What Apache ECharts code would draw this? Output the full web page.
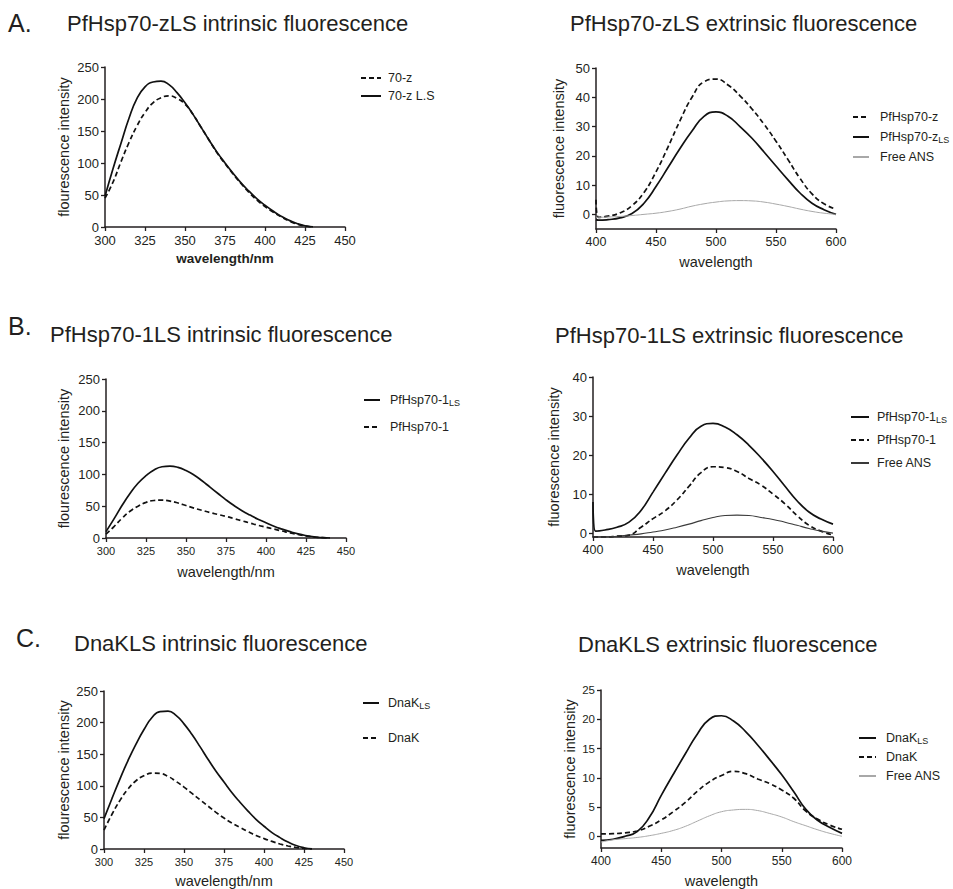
<!DOCTYPE html>
<html>
<head>
<meta charset="utf-8">
<script src="https://cdn.jsdelivr.net/npm/echarts@6/dist/echarts.min.js"></script>
<style>html,body{margin:0;padding:0;background:#fff;}#c{width:953px;height:889px;}</style>
</head>
<body>
<div id="c"></div>
<script>
// ---------- DATA ----------
// Intrinsic fluorescence (wavelength/nm)
const wlA1 = [300,305,310,315,320,325,330,335,340,345,350,355,360,365,370,375,380,385,390,395,400,405,410,415,420,425,430];
const a1_z  = [45,70,102,132,158,179,194,202,205,201,192,176,156,136,116,99,83,68,54,42,32,23.5,16,9.5,4.5,1.5,0];
const a1_ls = [48,91,131,170,201,219,226.5,228,222.5,210,194,176,156,136,117,100,84,69,56,44,34,25,17,10.5,5.5,2,0.3];

const wlB1 = [300,305,310,315,320,325,330,335,340,345,350,355,360,365,370,375,380,385,390,395,400,405,410,415,420,425,430,435,440];
const b1_ls = [10,30,51,70,86,98,107,112,113,111,106,99,90,80,70,60,51,43,36,29.5,24,18.5,14,10,6.5,3.8,1.8,0.6,0];
const b1_1  = [6,18,31,42,50,56,59,59.5,58,55,51,47,43.5,40,37,34,30.5,27,23.5,20,17,14,11,8,5.5,3.3,1.6,0.5,0];

const wlC1 = [300,305,310,315,320,325,330,335,340,345,350,355,360,365,370,375,380,385,390,395,400,405,410,415,420,425,430];
const c1_ls = [48,80,111,140,166,189,208,217.5,218,211.5,198,181,162,142,123,106,89,74,60,47,36,26,18,11,5.5,2,0.3];
const c1_k  = [30,55,77,95,108,116,120,119.5,115,107,98,88,78,68,58,49,41,34,27.5,21.5,16.5,12,8,4.8,2.4,0.8,0];

// Extrinsic fluorescence (wavelength)
const wlA2 = [400,402,410,420,430,440,450,460,470,480,490,500,510,520,530,540,550,560,570,580,590,600];
const a2_z   = [5,-1,-0.6,0.5,3,7.5,14.5,23,32,40,45.3,46.2,44.2,40.5,36,30.8,25,18.7,12.3,7,3.6,1.8];
const a2_ls  = [-1.8,-2,-1.8,-1.2,0.3,3.8,9.5,16,22.5,28.5,33.5,35,33.5,30,26,21.3,16.5,11.8,7.3,3.8,1.6,0];
const a2_ans = [-1,-1,-0.9,-0.7,-0.4,0,0.4,1,1.8,2.8,3.6,4.2,4.6,4.7,4.6,4.2,3.5,2.7,1.8,1,0.4,0];

const wlB2 = [400,402,410,420,430,440,450,460,470,480,490,500,510,520,530,540,550,560,570,580,590,600];
const b2_ls  = [8,0.5,0.8,1.5,2.8,5.8,10.5,15.3,20,24.3,27.4,28.1,27.2,25.2,22.5,19.3,15.8,12,8.3,5.4,3.6,2.3];
const b2_1   = [-1,-1,-1,-0.8,-0.5,1.5,3.7,5.7,8.5,12,15.5,17,16.8,15.8,14,12.3,10,7.5,4.5,2,0.5,-0.5];
const b2_ans = [-1,-1,-1,-0.8,-0.5,-0.2,0.3,0.8,1.5,2.3,3.2,4,4.5,4.6,4.5,4,3.5,2.8,2,1.2,0.5,0];

const wlC2 = [400,410,420,430,440,450,460,470,480,490,500,510,520,530,540,550,560,570,580,590,600];
const c2_ls  = [-0.7,-0.5,0,0.8,3.2,7,10.6,14.1,17.5,20,20.6,19.7,17.9,15.6,13.1,10.5,7.6,4.6,2.7,1.5,0.5];
const c2_k   = [0.4,0.45,0.6,0.9,1.7,2.8,4.2,5.8,7.7,9.3,10.4,11.1,10.7,9.8,9,7.9,6.5,4.3,2.9,1.9,1.2];
const c2_ans = [-1,-0.6,-0.4,-0.2,0.1,0.5,1,1.7,2.6,3.5,4.2,4.5,4.6,4.4,3.9,3.3,2.5,1.8,1.1,0.5,0];

// Tick labels
const yTicksA2 = [0,10,20,30,40,50];
const yTicksB2 = [0,10,20,30,40];
const yTicksC2 = [0,5,10,15,20,25];

// Legend display names
const legendNames = {
  a1_z: '{n|70-z}', a1_ls: '{n|70-z L.S}',
  a2_z: '{n|PfHsp70-z}', a2_ls: '{n|PfHsp70-z}{s|LS}', a2_ans: '{n|Free ANS}',
  b1_ls: '{n|PfHsp70-1}{s|LS}', b1_1: '{n|PfHsp70-1}',
  b2_ls: '{n|PfHsp70-1}{s|LS}', b2_1: '{n|PfHsp70-1}', b2_ans: '{n|Free ANS}',
  c1_ls: '{n|DnaK}{s|LS}', c1_k: '{n|DnaK}',
  c2_ls: '{n|DnaK}{s|LS}', c2_k: '{n|DnaK}', c2_ans: '{n|Free ANS}'
};

// ---------- CHART ----------
const FONT = 'Liberation Sans';
const INK = '#231f20';
const pts = (xs, ys) => xs.map((x, i) => [x, ys[i]]);

const grids = [
  {left:105, top:67,  width:240, height:160},
  {left:596, top:68,  width:240, height:161},
  {left:106, top:379, width:240, height:159},
  {left:593, top:377, width:240, height:160},
  {left:104, top:691, width:240, height:160},
  {left:601, top:690, width:241, height:159}
];

function xAxis(i, min, max, interval, fs, name, bold, gap) {
  return {
    type:'value', gridIndex:i, min:min, max:max, interval:interval,
    name:name, nameLocation:'middle', nameGap:gap,
    nameTextStyle:{fontFamily:FONT, fontSize:bold?13.5:14.5, fontWeight:bold?'bold':'normal', color:INK},
    axisLine:{onZero:false, lineStyle:{color:INK, width:1.5}},
    axisTick:{show:true, length:4, lineStyle:{color:INK, width:1.3}},
    axisLabel:{fontFamily:FONT, fontSize:fs, color:INK, margin:7, lineHeight:fs},
    splitLine:{show:false}
  };
}
function yAxis(i, min, max, interval, fs, name, gap, custom) {
  const ax = {
    type:'value', gridIndex:i, min:min, max:max,
    name:name, nameLocation:'middle', nameGap:gap,
    nameTextStyle:{fontFamily:FONT, fontSize:14.5, color:INK},
    axisLine:{show:true, onZero:false, lineStyle:{color:INK, width:1.5}},
    axisTick:{show:true, length:4, lineStyle:{color:INK, width:1.3}},
    axisLabel:{fontFamily:FONT, fontSize:fs, color:INK, margin:6, lineHeight:fs},
    splitLine:{show:false}
  };
  if (custom) {
    ax.interval = 5;
    ax.axisTick.customValues = custom;
    ax.axisLabel.customValues = custom;
  } else {
    ax.interval = interval;
  }
  return ax;
}

const xAxes = [
  xAxis(0, 300, 450, 25, 13, 'wavelength/nm', true, 24),
  xAxis(1, 400, 600, 50, 12.5, 'wavelength', false, 25),
  xAxis(2, 300, 450, 25, 11, 'wavelength/nm', false, 26),
  xAxis(3, 400, 600, 50, 12.5, 'wavelength', false, 25),
  xAxis(4, 300, 450, 25, 11, 'wavelength/nm', false, 24),
  xAxis(5, 400, 600, 50, 12, 'wavelength', false, 25)
];
const yAxes = [
  yAxis(0, 0, 250, 50, 13, 'flourescence intensity', 34),
  yAxis(1, -5, 50, 10, 13, 'fluorescence intensity', 30, yTicksA2),
  yAxis(2, 0, 250, 50, 13, 'flourescence intensity', 35),
  yAxis(3, -1, 40, 10, 13, 'fluorescence intensity', 32, yTicksB2),
  yAxis(4, 0, 250, 50, 13, 'flourescence intensity', 33),
  yAxis(5, -2, 25, 5, 11.5, 'fluorescence intensity', 24, yTicksC2)
];

function line(id, g, xs, ys, style) {
  return {
    type:'line', name:id, xAxisIndex:g, yAxisIndex:g,
    data:pts(xs, ys), symbol:'none', showSymbol:false,
    smooth:0.5,
    lineStyle:Object.assign({color:'#111', width:1.7, type:'solid'}, style),
    itemStyle:{color:style && style.color ? style.color : '#111'},
    emphasis:{disabled:true}
  };
}
const DASH = [5,3];
const series = [
  line('a1_z', 0, wlA1, a1_z, {type:DASH}),
  line('a1_ls', 0, wlA1, a1_ls, {}),
  line('a2_z', 1, wlA2, a2_z, {type:DASH}),
  line('a2_ls', 1, wlA2, a2_ls, {}),
  line('a2_ans', 1, wlA2, a2_ans, {color:'#a8a8a8', width:1}),
  line('b1_ls', 2, wlB1, b1_ls, {}),
  line('b1_1', 2, wlB1, b1_1, {type:DASH}),
  line('b2_ls', 3, wlB2, b2_ls, {}),
  line('b2_1', 3, wlB2, b2_1, {type:DASH}),
  line('b2_ans', 3, wlB2, b2_ans, {color:'#3a3a3a', width:1.1}),
  line('c1_ls', 4, wlC1, c1_ls, {}),
  line('c1_k', 4, wlC1, c1_k, {type:DASH}),
  line('c2_ls', 5, wlC2, c2_ls, {}),
  line('c2_k', 5, wlC2, c2_k, {type:DASH}),
  line('c2_ans', 5, wlC2, c2_ans, {color:'#a8a8a8', width:1})
];

const rich = {
  n:{fontFamily:FONT, fontSize:12.5, color:INK, lineHeight:14},
  s:{fontFamily:FONT, fontSize:9, color:INK, lineHeight:14, verticalAlign:'bottom', padding:[5,0,0,0]}
};
function legend(data, left, top, iw, gap, pad) {
  return {
    orient:'vertical', left:left, top:top, data:data,
    itemWidth:iw, itemHeight:10, itemGap:gap, padding:0,
    selectedMode:false,
    itemStyle:{opacity:0, borderWidth:0},
    formatter:(n) => legendNames[n],
    textStyle:{fontFamily:FONT, fontSize:12.5, color:INK, lineHeight:14, padding:[0,0,0,pad], rich:rich}
  };
}
const legends = [
  legend(['a1_z','a1_ls'], 360, 71, 20, 4, 2),
  legend(['a2_z','a2_ls','a2_ans'], 852, 110, 16, 6, 6),
  legend(['b1_ls','b1_1'], 363, 393, 16, 13, 5),
  legend(['b2_ls','b2_1','b2_ans'], 850, 410, 18, 9, 3),
  legend(['c1_ls','c1_k'], 362, 696, 16, 21, 4),
  legend(['c2_ls','c2_k','c2_ans'], 858, 731, 17, 5, 5)
];

function ttl(text, left, top, fs) {
  return {text:text, left:left, top:top, padding:0,
    textStyle:{fontFamily:FONT, fontSize:fs, fontWeight:'normal', color:INK}};
}
const titles = [
  ttl('A.', 8, 10, 25),
  ttl('PfHsp70-zLS intrinsic fluorescence', 67, 12, 22),
  ttl('PfHsp70-zLS extrinsic fluorescence', 570, 12, 22),
  ttl('B.', 8, 313, 25),
  ttl('PfHsp70-1LS intrinsic fluorescence', 50, 323, 22),
  ttl('PfHsp70-1LS extrinsic fluorescence', 555, 324, 22),
  ttl('C.', 16, 625, 25),
  ttl('DnaKLS intrinsic fluorescence', 74, 632, 22),
  ttl('DnaKLS extrinsic fluorescence', 578, 633, 22)
];

const chart = echarts.init(document.getElementById('c'), null, {renderer:'svg'});
chart.setOption({
  backgroundColor:'#ffffff',
  animation:false,
  title:titles,
  legend:legends,
  grid:grids,
  xAxis:xAxes,
  yAxis:yAxes,
  series:series
});
</script>
</body>
</html>
